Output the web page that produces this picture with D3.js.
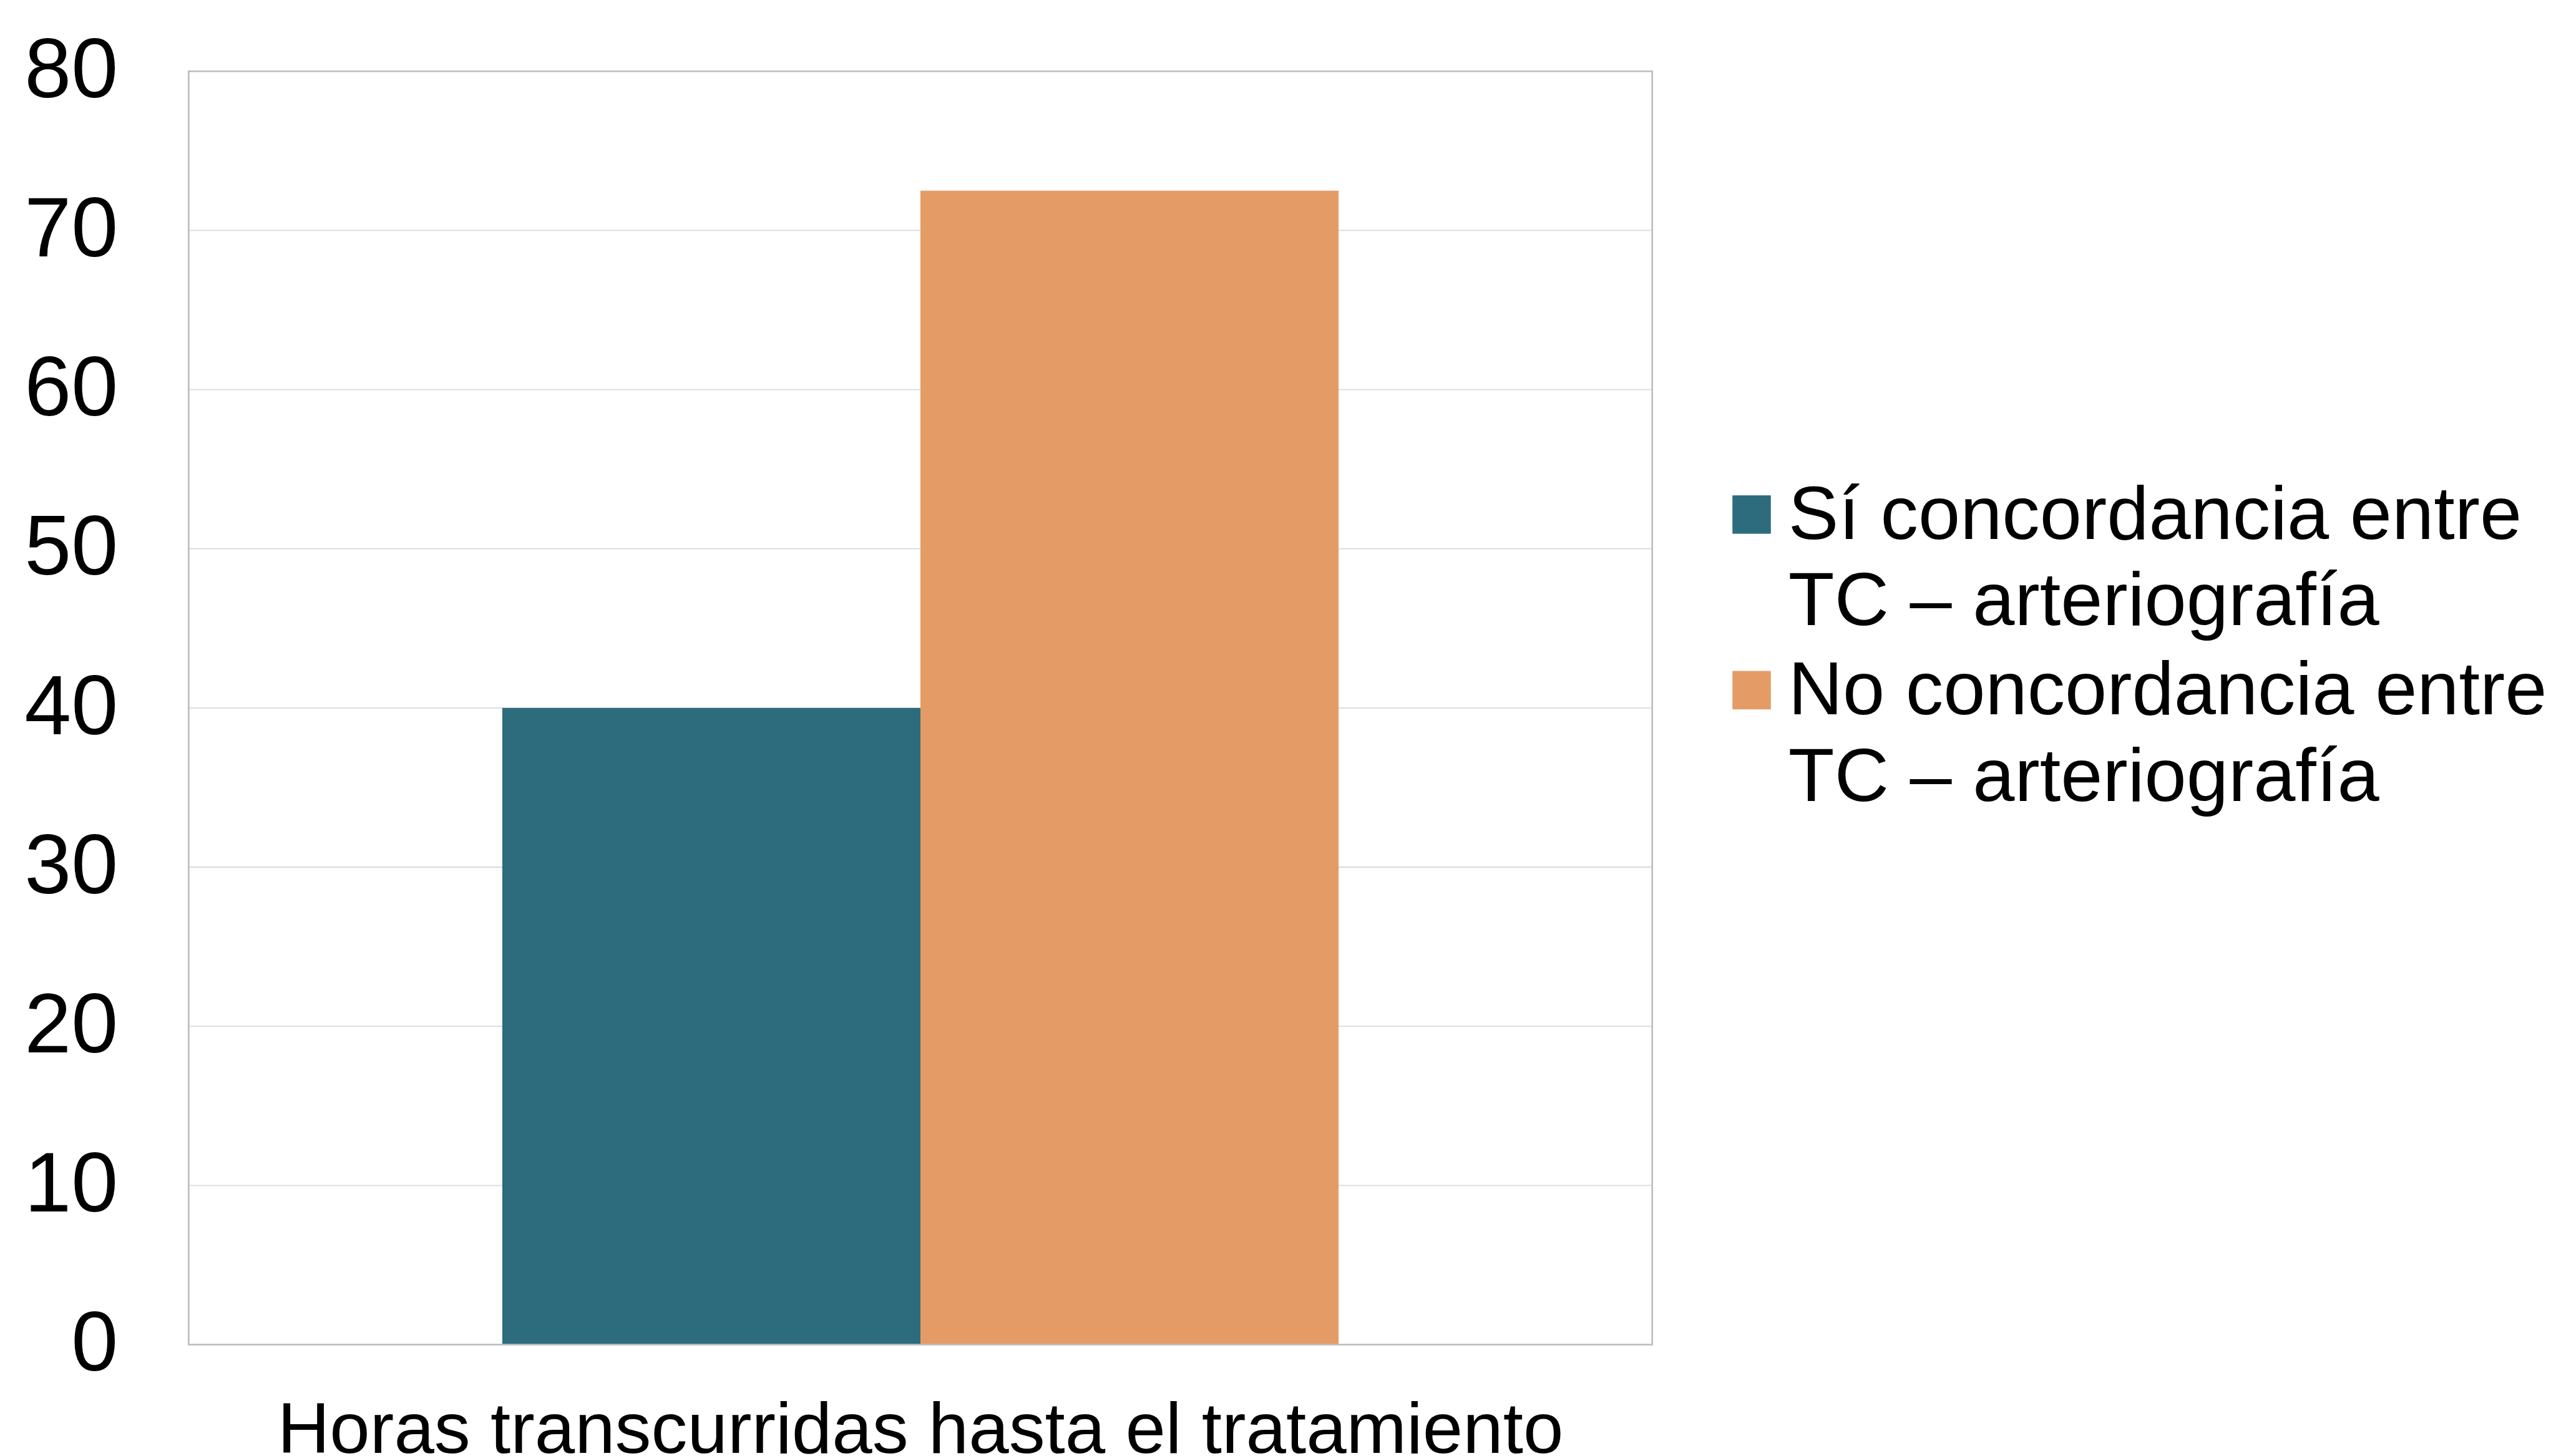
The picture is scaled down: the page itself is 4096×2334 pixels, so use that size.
<!DOCTYPE html>
<html>
<head>
<meta charset="utf-8">
<script src="https://cdn.jsdelivr.net/npm/d3@7"></script>
<style>
  html, body { margin: 0; padding: 0; background: #ffffff; overflow: hidden; }
  svg { display: block; }
  text { font-family: "Liberation Sans", Arial, sans-serif; fill: #000000; }
</style>
</head>
<body>
<svg id="chart" width="4096" height="2334" viewBox="0 0 4525 2578"></svg>
<script>
// ---- data ----
const categories = ["Horas transcurridas hasta el tratamiento"];
const seriesNames = ["Sí concordancia entre TC – arteriografía", "No concordancia entre TC – arteriografía"];
const legendLines = [["Sí concordancia entre", "TC – arteriografía"], ["No concordancia entre", "TC – arteriografía"]];
const siValues = [40];
const noValues = [72.5];
const yTicks = [0, 10, 20, 30, 40, 50, 60, 70, 80];
const seriesColors = ["#2D6C7D", "#E59B65"];

// ---- layout (reference pixel space, scaled by viewBox) ----
const svg = d3.select("#chart");
const plot = { left: 334, right: 2925, top: 126, bottom: 2381 };

const y = d3.scaleLinear().domain([0, 80]).range([plot.bottom, plot.top]);
const x0 = d3.scaleBand().domain(categories).range([plot.left, plot.right]).padding(0);
const x1 = d3.scaleBand().domain(seriesNames).range([0, x0.bandwidth()]).paddingInner(0).paddingOuter(0.75);

const table = categories.map((c, i) => ({
  category: c,
  values: [
    { series: seriesNames[0], value: siValues[i], color: seriesColors[0] },
    { series: seriesNames[1], value: noValues[i], color: seriesColors[1] }
  ]
}));

// plot background
svg.append("rect")
  .attr("x", plot.left).attr("y", plot.top)
  .attr("width", plot.right - plot.left).attr("height", plot.bottom - plot.top)
  .attr("fill", "#ffffff");

// gridlines
svg.append("g").selectAll("line")
  .data(yTicks.filter(t => t > 0 && t < 80))
  .join("line")
  .attr("x1", plot.left).attr("x2", plot.right)
  .attr("y1", d => y(d)).attr("y2", d => y(d))
  .attr("stroke", "#D9D9D9").attr("stroke-width", 2);

// bars
const groups = svg.append("g").selectAll("g")
  .data(table).join("g")
  .attr("transform", d => `translate(${x0(d.category)},0)`);
groups.selectAll("rect")
  .data(d => d.values).join("rect")
  .attr("x", d => x1(d.series))
  .attr("width", x1.bandwidth())
  .attr("y", d => y(d.value))
  .attr("height", d => y(0) - y(d.value))
  .attr("fill", d => d.color);

// plot border
svg.append("rect")
  .attr("x", plot.left).attr("y", plot.top)
  .attr("width", plot.right - plot.left).attr("height", plot.bottom - plot.top)
  .attr("fill", "none").attr("stroke", "#BFBFBF").attr("stroke-width", 3);

// y axis labels
const yAxis = d3.axisLeft(y).tickValues(yTicks).tickSize(0).tickPadding(0).tickFormat(d3.format("d"));
const yg = svg.append("g").attr("transform", "translate(209,0)").call(yAxis);
yg.select(".domain").remove();
yg.selectAll("text")
  .attr("font-size", 149)
  .attr("font-family", "'Liberation Sans', Arial, sans-serif")
  .attr("fill", "#000")
  .attr("dy", null)
  .attr("y", 45.5)
  .attr("text-anchor", "end");

// x category label
const xAxis = d3.axisBottom(x0).tickSize(0).tickPadding(0);
const xg = svg.append("g").attr("transform", `translate(0,${plot.bottom})`).call(xAxis);
xg.select(".domain").remove();
xg.selectAll("text")
  .attr("font-size", 128)
  .attr("font-family", "'Liberation Sans', Arial, sans-serif")
  .attr("fill", "#000")
  .attr("dy", null)
  .attr("y", 192)
  .attr("text-anchor", "middle");

// legend
const legendBaselines = [[954, 1107], [1265, 1418]];
const legendSquares = [877, 1188];
const legend = svg.append("g");
seriesNames.forEach((s, i) => {
  legend.append("rect")
    .attr("x", 3067).attr("y", legendSquares[i])
    .attr("width", 68).attr("height", 68)
    .attr("fill", seriesColors[i]);
  legendLines[i].forEach((line, j) => {
    legend.append("text")
      .attr("x", 3166).attr("y", legendBaselines[i][j])
      .attr("font-size", 133.5)
      .text(line);
  });
});
</script>
</body>
</html>
